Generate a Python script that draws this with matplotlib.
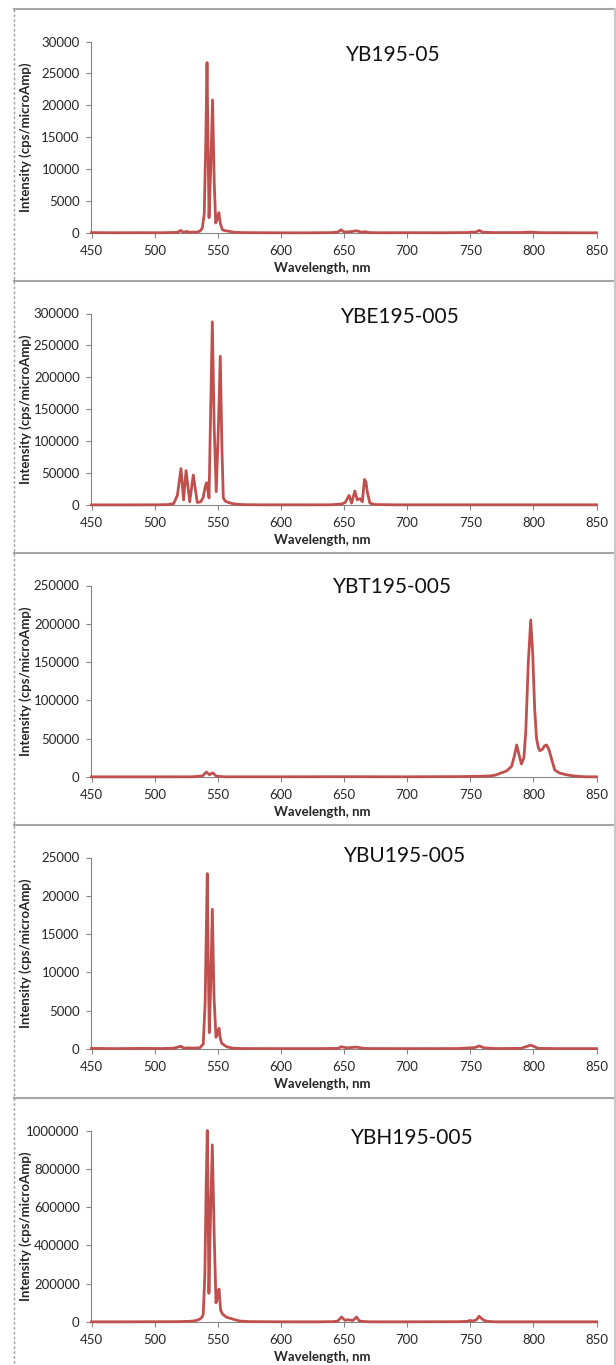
import matplotlib
matplotlib.use('Agg')
import matplotlib.pyplot as plt
from matplotlib.lines import Line2D
from matplotlib.ticker import MultipleLocator, StrMethodFormatter

plt.rcParams['font.family'] = ['Lato', 'DejaVu Sans']

# panel titles and y scales
titles = ['YB195-05', 'YBE195-005', 'YBT195-005', 'YBU195-005', 'YBH195-005']
y_max = [30000, 300000, 250000, 25000, 1000000]
y_step = [5000, 50000, 50000, 5000, 200000]
x_ticks = [450, 500, 550, 600, 650, 700, 750, 800, 850]

# YB195-05
wl1 = [450, 470, 490, 505, 515, 518, 520.7, 522.5, 525.6, 527.5, 530, 533, 536,
       537.8, 539.3, 540.5, 541.5, 542.3, 543.1, 544.4, 545.9, 547.2, 548.4,
       549.5, 550.9, 552, 553.7, 556, 558, 561, 564, 570, 590, 620, 640, 645,
       647.7, 650, 655, 660, 664, 667, 670, 680, 700, 730, 748, 751, 754, 757.2,
       760, 770, 790, 797.7, 805, 830, 850]
int1 = [60, 40, 50, 40, 80, 100, 400, 120, 250, 100, 150, 120, 300,
        800, 3000, 14000, 26700, 14000, 2400, 10000, 20840, 8000, 1570,
        2200, 3190, 1500, 500, 350, 300, 180, 100, 60, 40, 30, 60, 150,
        500, 150, 200, 350, 120, 200, 60, 40, 50, 40, 80, 150, 120, 400,
        120, 60, 70, 150, 50, 40, 30]

# YBE195-005
wl2 = [450, 480, 500, 510, 515, 518, 520.9, 522.9, 524.9, 527.8, 530.6, 533.8,
       536.5, 538.5, 540, 541.2, 543.1, 544.4, 545.7, 547.2, 548.8, 550.5, 552.0,
       553.3, 554.4, 556, 558.4, 562, 566.3, 572, 590, 620, 640, 648, 651, 654,
       656, 658.6, 660.5, 662.7, 664.5, 666.2, 667.4, 668.5, 670.5, 674, 690,
       750, 800, 850]
int2 = [200, 200, 300, 600, 2000, 15000, 57000, 8000, 54000, 5000, 47000, 4000,
        5000, 12000, 28000, 35000, 11000, 150000, 287000, 120000, 20800, 120000, 233000,
        90000, 11000, 6000, 4000, 2000, 1000, 500, 300, 300, 400, 1500, 4000, 15000,
        3000, 22000, 8000, 10000, 5000, 40000, 36000, 20000, 3000, 800, 300,
        300, 300, 300]

# YBT195-005
wl3 = [450, 500, 530, 538, 541, 543.5, 546, 549, 555, 600, 650, 700, 740, 760,
       766, 770, 774, 778.9, 782.8, 785, 786.8, 788.5, 790.5, 792.5, 794, 796,
       797.9, 799.5, 801, 802.5, 804, 805.2, 807, 809, 810.5, 812.5, 815, 817,
       821, 826, 831.5, 837, 842, 850]
int3 = [200, 200, 300, 1500, 6500, 3000, 5500, 1000, 300, 300, 400, 300, 500, 1000,
        1500, 2500, 5000, 8000, 14000, 28000, 41800, 30000, 17000, 25000, 60000, 150000,
        205000, 160000, 90000, 50000, 38000, 34300, 36000, 41000, 41800, 35000, 20000, 9000,
        5000, 3000, 1500, 700, 300, 200]

# YBU195-005
wl4 = [450, 470, 490, 505, 515, 520.9, 523, 526, 530, 535.8, 538.5, 540, 541.7,
       542.5, 543.3, 544.5, 545.7, 547, 548.6, 549.8, 551, 552, 553.1, 557, 562.3,
       570, 600, 630, 645, 648, 652, 656, 660, 665, 670, 700, 740, 750, 754, 757,
       761, 770, 790, 798, 804, 820, 850]
int4 = [80, 50, 80, 60, 100, 350, 100, 150, 120, 150, 650, 6000, 22900,
        11000, 2130, 9000, 18240, 7000, 1530, 2000, 2700, 1400, 750, 300, 100,
        60, 50, 50, 80, 300, 150, 200, 250, 100, 60, 50, 60, 150, 200, 400,
        150, 60, 80, 500, 80, 50, 50]

# YBH195-005
wl5 = [450, 480, 510, 520, 527, 530.5, 533, 535.8, 537.5, 538.5, 539.8, 540.8,
       541.7, 542.4, 543, 544.4, 545.7, 547.2, 548.6, 549.8, 551, 552.3, 554, 557,
       562, 567.5, 575, 600, 630, 642, 645, 648, 651, 653, 655, 657, 660, 662,
       665, 670, 700, 740, 747, 750, 752.5, 755, 757, 759, 761, 764, 770, 800, 850]
int5 = [1000, 1000, 1500, 2000, 3500, 5000, 8000, 15000, 25000, 40000, 250000, 700000,
        1000000, 600000, 150000, 600000, 925000, 450000, 100000, 130000, 172000, 60000, 40000, 25000,
        15000, 5000, 2000, 1000, 1000, 2000, 5000, 26000, 8000, 12000, 10000, 8000, 26000, 6000,
        3000, 1000, 1000, 1500, 3000, 8000, 5000, 12000, 30000, 18000, 8000, 3000, 1000, 1000, 1000]

spectra = [(wl1, int1), (wl2, int2), (wl3, int3), (wl4, int4), (wl5, int5)]

W, H = 616, 1365
panel_tops = [9, 281, 553, 825, 1098]
title_pos = [(393, 46), (400, 36), (392, 34), (405, 31), (412, 40)]

fig = plt.figure(figsize=(W / 100, H / 100), dpi=100)

for i in range(5):
    top = panel_tops[i]
    ax = fig.add_axes([91.5 / W, 1 - (top + 224) / H, 505 / W, 191.5 / H])
    wl, inten = spectra[i]
    ax.plot(wl, inten, color='#C0504D', lw=2.0, zorder=3, clip_on=False)
    ax.set_xlim(450, 850)
    ax.set_ylim(0, y_max[i])
    ax.set_xticks(x_ticks)
    ax.yaxis.set_major_locator(MultipleLocator(y_step[i]))
    ax.yaxis.set_major_formatter(StrMethodFormatter('{x:.0f}'))
    for s in ['top', 'right']:
        ax.spines[s].set_visible(False)
    for s in ['left', 'bottom']:
        ax.spines[s].set_color('#868686')
        ax.spines[s].set_linewidth(0.8)
    ax.tick_params(direction='out', length=3.5, width=0.8, color='#868686',
                   labelsize=9.5, labelcolor='#262626', pad=5)
    ax.set_xlabel('Wavelength, nm', fontsize=9.5, fontweight='bold', color='#262626')
    ax.xaxis.set_label_coords(0.456, -0.15)
    ax.set_ylabel('Intensity (cps/microAmp)', fontsize=9.5, fontweight='bold', color='#262626')
    ax.yaxis.set_label_coords(-0.118, 0.5)
    tx, ty = title_pos[i]
    fig.text(tx / W, 1 - (top + ty) / H, titles[i], ha='center', va='center',
             fontsize=15, color='#111111')
    # chart frame line
    fig.add_artist(Line2D([14 / W, 1], [1 - top / H, 1 - top / H],
                          color='#A6A6A6', lw=1.5))

fig.add_artist(Line2D([14 / W, 14 / W], [1 - 9 / H, 0], color='#A0A0A0',
                      lw=1.0, ls=(0, (2, 1.5))))
fig.add_artist(Line2D([614.5 / W, 614.5 / W], [1 - 9 / H, 0], color='#C8C8C8', lw=1.5))

fig.savefig('out.png', dpi=100)
